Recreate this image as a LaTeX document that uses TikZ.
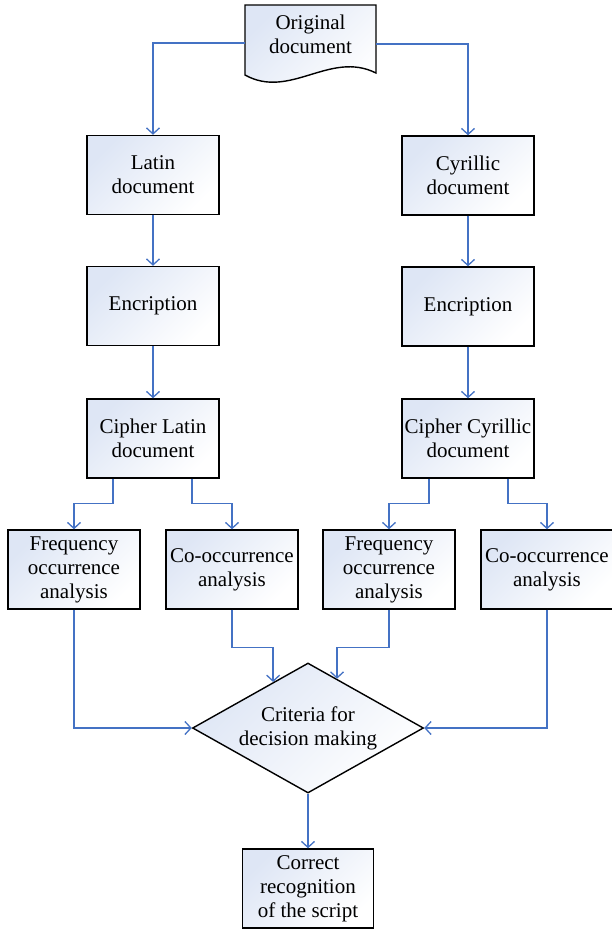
\documentclass[tikz,border=0pt]{standalone}
\usepackage{fontspec}
\setmainfont{Liberation Serif}
\usetikzlibrary{arrows.meta,shapes.geometric,calc}
\definecolor{flowblue}{RGB}{68,114,196}
\definecolor{boxtint}{RGB}{222,230,245}
\tikzset{
  blk/.style={draw=black, line width=1.4pt, minimum width=132pt, minimum height=79pt,
    align=center, top color=boxtint, bottom color=white, shading angle=45,
    font=\fontsize{21}{24}\selectfont, inner sep=1pt},
  dec/.style={blk, diamond, aspect=1.78, minimum width=231pt, minimum height=130pt, inner sep=0pt},
  flow/.style={draw=flowblue, line width=1.3pt, -{Straight Barb[length=6pt,width=13pt]}},
}
\begin{document}
\begin{tikzpicture}[x=1pt, y=-1pt]
    \useasboundingbox (0,0) rectangle (612,930);
    % document shape on top
    \shade[draw=black, line width=1.4pt, top color=boxtint, bottom color=white, shading angle=45]
        (245,5) -- (376,5) -- (376,73) .. controls (330,50) and (290,100) .. (245,75) -- cycle;
    \node[align=center, font=\fontsize{21}{24}\selectfont, minimum width=131pt] (orig) at (310.5,34) {Original\\document};
    % two columns
    \node[blk] (latin) at (153,175) {Latin\\document};
    \node[blk] (cyr) at (468,175.5) {Cyrillic\\document};
    \node[blk] (encl) at (153,306) {Encription};
    \node[blk] (encc) at (468,306.5) {Encription};
    \node[blk] (cphl) at (153,438.5) {Cipher Latin\\document};
    \node[blk] (cphc) at (468,438.5) {Cipher Cyrillic\\document};
    \node[blk] (frql) at (74,569.5) {Frequency\\occurrence\\analysis};
    \node[blk] (cool) at (232,569.5) {Co-occurrence\\analysis};
    \node[blk] (frqc) at (389,569.5) {Frequency\\occurrence\\analysis};
    \node[blk] (cooc) at (547,569.5) {Co-occurrence\\analysis};
    \node[dec] (crit) at (308,728) {Criteria for\\decision making};
    \node[blk, minimum width=131pt] (corr) at (308,888.5) {Correct\\recognition\\of the script};
    \coordinate (inl) at ($(crit.north)!0.3!(crit.west)$);
    \coordinate (inr) at ($(crit.north)!0.25!(crit.east)$);
    % connectors
    \draw[flow] ([yshift=-9pt]orig.west) -| (latin.north);
    \draw[flow] ([yshift=-10pt]orig.east) -| (cyr.north);
    \draw[flow] (latin) -- (encl);
    \draw[flow] (cyr) -- (encc);
    \draw[flow] (encl) -- (cphl);
    \draw[flow] (encc) -- (cphc);
    \draw[flow] ([xshift=-40pt]cphl.south) -- ++(0,25) -| (frql.north);
    \draw[flow] ([xshift=39pt]cphl.south) -- ++(0,25) -| (cool.north);
    \draw[flow] ([xshift=-39pt]cphc.south) -- ++(0,25) -| (frqc.north);
    \draw[flow] ([xshift=40pt]cphc.south) -- ++(0,25) -| (cooc.north);
    \draw[flow] (frql.south) |- (crit.west);
    \draw[flow] (cooc.south) |- (crit.east);
    \draw[flow] (cool.south) -- ++(0,38) -| (inl);
    \draw[flow] (frqc.south) -- ++(0,38) -| (inr);
    \draw[flow] (crit) -- (corr);
\end{tikzpicture}
\end{document}
